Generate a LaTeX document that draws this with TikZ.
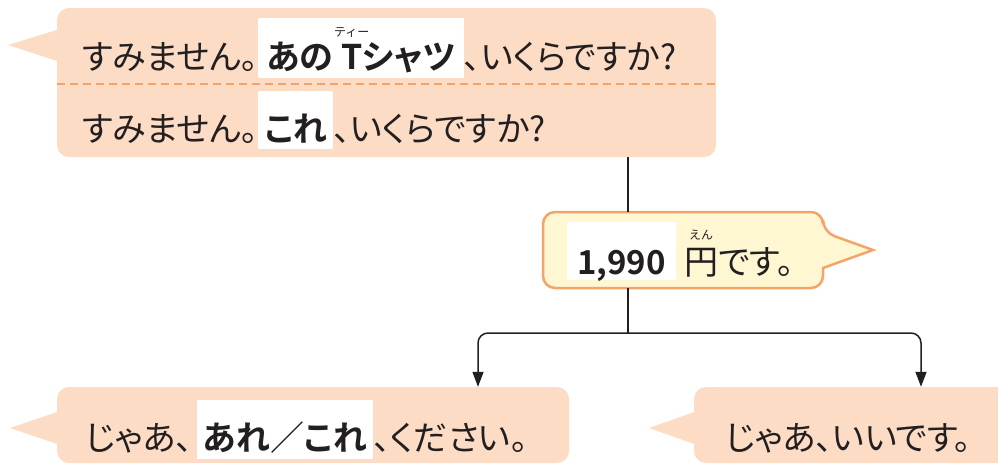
\documentclass[tikz,border=0pt]{standalone}
\usepackage{fontspec}
\usetikzlibrary{arrows.meta}
\newfontfamily\jp{Noto Sans CJK JP}[RawFeature=+palt,BoldFont={Noto Sans CJK JP Bold}]
\newfontfamily\jpn{Noto Sans CJK JP}[BoldFont={Noto Sans CJK JP Bold}]
\definecolor{peach}{RGB}{252,220,197}
\definecolor{ylw}{RGB}{255,247,210}
\definecolor{orng}{RGB}{243,164,106}
\definecolor{ink}{RGB}{35,31,32}
\newcommand\myruby[3]{\leavevmode\hbox{\ooalign{#2\cr\hidewidth\smash{\raisebox{#1}{\jpn\fontsize{12}{12}\selectfont\mdseries #3}}\hidewidth\cr}}}
\tikzset{
  bub/.style={fill=peach, rounded corners=12pt, draw=none, inner sep=0pt},
  txt/.style={inner sep=0pt, anchor=base west, text=ink, font=\jp\fontsize{34}{34}\selectfont},
  hl/.style={txt, fill=white, inner xsep=8pt, inner ysep=0pt, font=\jp\bfseries\fontsize{34}{34}\selectfont},
  conn/.style={draw=ink, line width=1.5pt},
  divider/.style={draw=orng, line width=2pt, dash pattern=on 8pt off 5pt},
  tip/.style={-{Triangle[width=11pt,length=15pt]}}
}
\begin{document}
\begin{tikzpicture}[x=1pt,y=-1pt]
\useasboundingbox (0,0) rectangle (998,464);
\clip (0,0) rectangle (998,464);
% top bubble
\node[bub, minimum width=659pt, minimum height=149pt] (q) at (386.5,82.5) {};
\fill[peach] (60,29) -- (8,45) -- (60,62) -- cycle;
\draw[divider] (57,84) -- (716,84);
% yellow bubble
\filldraw[fill=ylw, draw=orng, line width=2.5pt, rounded corners=12pt] (543,212) -- (823,212) -- (823,232) [sharp corners] -- (873,250) -- (823,268) [rounded corners=12pt] -- (823,288) -- (543,288) -- cycle;
\node[minimum width=280pt, minimum height=76pt, inner sep=0pt] (a) at (683,250) {};
% bottom bubbles
\node[bub, minimum width=512pt, minimum height=76pt] (l) at (313,425) {};
\fill[peach] (60,411) -- (10,428) -- (60,445) -- cycle;
\node[bub, minimum width=316pt, minimum height=76pt] (r) at (852,425) {};
\fill[peach] (697,411) -- (649,428) -- (697,445) -- cycle;
% connectors
\coordinate (stem) at (628,333);
\coordinate (lx) at (478,333);
\coordinate (rx) at (921,333);
\draw[conn] (q.south -| stem) -- (a.north -| stem);
\draw[conn] (a.south -| stem) -- (stem);
\draw[conn, tip, rounded corners=10pt] (stem) -| (l.north -| lx);
\draw[conn, tip, rounded corners=10pt] (stem) -| (r.north -| rx);
% texts line 1
\node[txt] (t1a) at (82,69) {すみません。};
\node[hl, text height=51pt, text depth=9pt] (t1b) at ([xshift=0pt]t1a.base east) {あの \myruby{33pt}{T}{ティー}シャツ};
\node[txt] (t1c) at (t1b.base east) {、いくらですか?};
% line 2
\node[txt] (t2a) at (82,141) {すみません。};
\node[hl, text height=50pt, text depth=8pt, inner xsep=6pt] (t2b) at ([xshift=0pt]t2a.base east) {これ};
\node[txt] (t2c) at (t2b.base east) {、いくらですか?};
% yellow text
\node[hl, font=\jpn\bfseries\fontsize{33}{33}\selectfont, inner xsep=10pt, text height=52pt, text depth=6pt] (a1) at (567,274) {1,990};
\node[txt] (a2) at ([xshift=8pt]a1.base east) {\myruby{35pt}{円}{えん}です。};
% bottom texts
\node[txt] (b1) at (85,450) {じゃあ、};
\node[hl, text height=50pt, text depth=9pt, inner xsep=6pt] (b2) at ([xshift=4pt]b1.base east) {あれ{\mdseries ／}これ};
\node[txt] (b3) at (b2.base east) {、ください。};
\node[txt] (c1) at (725,450) {じゃあ、いいです。};
\end{tikzpicture}
\end{document}
